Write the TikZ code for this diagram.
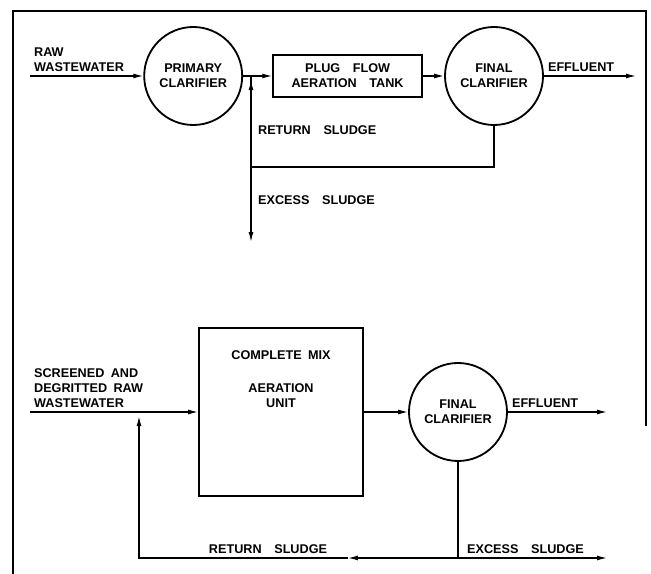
\documentclass[tikz,border=0pt]{standalone}
\usepackage{fontspec}
\setmainfont{Liberation Sans}
\usetikzlibrary{positioning, arrows.meta, calc}

\begin{document}
\begin{tikzpicture}[font=\bfseries\fontsize{9}{10.7}\selectfont, line width=0.9pt,
    clar/.style={circle, draw, line width=1.3pt, minimum size=2.45cm, inner sep=0pt, align=center},
    tank/.style={draw, line width=1.3pt, align=center},
    flow/.style={-{Latex[length=7pt, width=3.5pt]}},
    lbl/.style={align=left, inner sep=2.5pt}]
    \useasboundingbox (0,0) rectangle (16.275,14.35);
    % frame
    \draw[line width=0.8pt] (0.325,0) -- (0.325,14.075) -- (16.15,14.075) -- (16.15,3.7);
    % plug flow scheme
    \coordinate (raw) at (0.75,12.45);
    \node[clar] (pc) at (4.83,12.45) {PRIMARY\\CLARIFIER};
    \node[tank, minimum width=3.725cm, minimum height=1.05cm] (pf) at (8.69,12.45) {PLUG\quad FLOW\\AERATION\quad TANK};
    \node[clar] (fc1) at (12.35,12.45) {FINAL\\CLARIFIER};
    \coordinate (eff1) at (15.9,12.45);
    \coordinate (j1) at (6.275,12.45);
    \coordinate (rs1) at (6.275,10.175);
    \coordinate (ex1) at (6.275,8.3);
    \node[lbl, anchor=south west] (rawtxt) at (raw) {RAW\\WASTEWATER};
    \draw[flow] (raw) -- (pc);
    \draw[flow] (pc) -- (pf);
    \draw[flow] (pf) -- (fc1);
    \draw[flow] (fc1) -- (eff1);
    \node[lbl, anchor=south west] (efftxt1) at (fc1.east) {EFFLUENT};
    \draw (fc1.south) |- (rs1);
    \draw[flow] (j1) -- (ex1);
    \draw[flow] (rs1) -- ([yshift=-3pt]j1);
    \node[lbl, anchor=west] (rettxt1) at (6.35,11.1) {RETURN\quad SLUDGE};
    \node[lbl, anchor=west] (extxt1) at (6.35,9.35) {EXCESS\quad SLUDGE};
    % complete mix scheme
    \coordinate (scr) at (0.75,4.05);
    \node[tank, minimum width=4.1cm, minimum height=4.2cm] (cm) at (7.025,4.05) {};
    \node[align=center, below=0.45cm of cm.north] (cmtxt) {COMPLETE\enspace MIX\\[0.45cm]AERATION\\UNIT};
    \node[clar] (fc2) at (11.45,4.05) {FINAL\\CLARIFIER};
    \coordinate (eff2) at (15.175,4.05);
    \coordinate (j2) at (3.475,4.05);
    \coordinate (c2) at (3.475,0.4);
    \coordinate (rs2) at (8.7,0.4);
    \coordinate (ex2) at (15.175,0.4);
    \node[lbl, anchor=south west] (scrtxt) at (scr) {SCREENED\enspace AND\\DEGRITTED\enspace RAW\\WASTEWATER};
    \draw[flow] (scr) -- (cm);
    \draw[flow] (cm) -- (fc2);
    \draw[flow] (fc2) -- (eff2);
    \node[lbl, anchor=south west] (efftxt2) at (fc2.east) {EFFLUENT};
    \draw[flow] (fc2.south) |- (ex2);
    \draw[flow] (fc2.south |- ex2) -- (rs2);
    \draw[flow] (rs2) -- (c2) -- ([yshift=-3pt]j2);
    \node[lbl, anchor=south] (rettxt2) at (6.7,0.4) {RETURN\quad SLUDGE};
    \node[lbl, anchor=south west] (extxt2) at (11.575,0.4) {EXCESS\quad SLUDGE};
\end{tikzpicture}
\end{document}
